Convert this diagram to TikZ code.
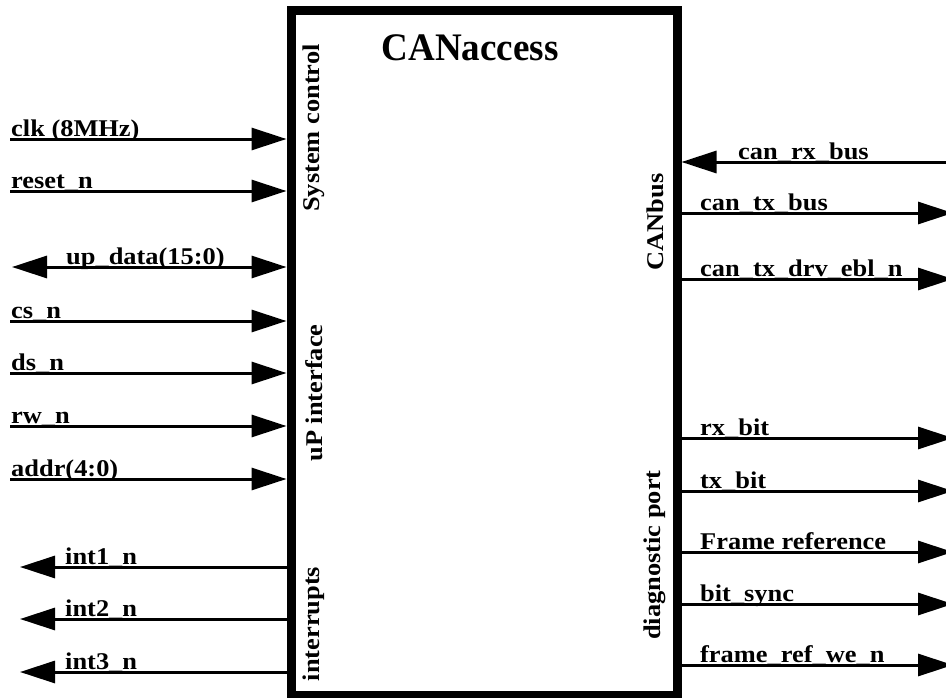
\documentclass[tikz,border=0pt]{standalone}
\usepackage{fontspec}
\setmainfont{Liberation Serif}
\newfontfamily\labfont{Liberation Serif}[FakeStretch=1.1]
\newfontfamily\titfont{Liberation Serif}[FakeStretch=0.95]
\usetikzlibrary{arrows.meta}
\tikzset{
  sig/.style={line width=3pt},
  bigtip/.tip={Triangle[length=35pt,width=22pt]},
  lab/.style={font=\labfont\bfseries\fontsize{24}{26}\selectfont, inner sep=0pt, anchor=base west},
  side/.style={font=\labfont\bfseries\fontsize{24}{26}\selectfont, inner sep=0pt, rotate=90},
}
\begin{document}
\begin{tikzpicture}[x=1pt,y=-1pt]
\useasboundingbox (0,0) rectangle (946,697);
\clip (0,0) rectangle (946,697);
% block
\node[draw, line width=9pt, minimum width=386pt, minimum height=685pt, inner sep=0pt] (box) at (484,353) {};
\node[font=\titfont\bfseries\fontsize{39}{42}\selectfont, inner sep=0pt, anchor=base] (title) at (470,60) {CANaccess};
% side group labels
\node[side] (sysctl) at (314,128) {System control};
\node[side] (upif) at (314,393) {uP interface};
\node[side] (intr) at (314,624) {interrupts};
\node[side] (canbus) at (655,222) {CANbus};
\node[side] (diag) at (655,555) {diagnostic port};
% left inputs
\coordinate (clkL) at (10,139);
\coordinate (resetL) at (10,191);
\coordinate (upL) at (12,267);
\coordinate (csL) at (10,321);
\coordinate (dsL) at (10,373);
\coordinate (rwL) at (10,426);
\coordinate (addrL) at (10,479);
\coordinate (int1L) at (20,567);
\coordinate (int2L) at (20,619);
\coordinate (int3L) at (20,672);
\draw[sig,-bigtip] (clkL) -- (clkL -| box.west);
\draw[sig,-bigtip] (resetL) -- (resetL -| box.west);
\draw[sig,bigtip-bigtip] (upL) -- (upL -| box.west);
\draw[sig,-bigtip] (csL) -- (csL -| box.west);
\draw[sig,-bigtip] (dsL) -- (dsL -| box.west);
\draw[sig,-bigtip] (rwL) -- (rwL -| box.west);
\draw[sig,-bigtip] (addrL) -- (addrL -| box.west);
\draw[sig,-bigtip] (int1L -| box.west) -- (int1L);
\draw[sig,-bigtip] (int2L -| box.west) -- (int2L);
\draw[sig,-bigtip] (int3L -| box.west) -- (int3L);
\node[lab] (clkT) at (11,136) {clk (8MHz)};
\node[lab] (resetT) at (11,188) {reset\_n};
\node[lab] (upT) at (66,264) {up\_data(15:0)};
\node[lab] (csT) at (11,318) {cs\_n};
\node[lab] (dsT) at (11,370) {ds\_n};
\node[lab] (rwT) at (11,423) {rw\_n};
\node[lab] (addrT) at (11,476) {addr(4:0)};
\node[lab] (int1T) at (65,564) {int1\_n};
\node[lab] (int2T) at (65,616) {int2\_n};
\node[lab] (int3T) at (65,669) {int3\_n};
% right side
\coordinate (canrxR) at (950,162);
\coordinate (cantxR) at (953,213);
\coordinate (candrvR) at (953,279);
\coordinate (rxbitR) at (953,438);
\coordinate (txbitR) at (953,491);
\coordinate (frefR) at (953,552);
\coordinate (bsyncR) at (953,604);
\coordinate (frweR) at (953,665);
\draw[sig,-bigtip] (canrxR) -- (canrxR -| box.east);
\draw[sig,-bigtip] (cantxR -| box.east) -- (cantxR);
\draw[sig,-bigtip] (candrvR -| box.east) -- (candrvR);
\draw[sig,-bigtip] (rxbitR -| box.east) -- (rxbitR);
\draw[sig,-bigtip] (txbitR -| box.east) -- (txbitR);
\draw[sig,-bigtip] (frefR -| box.east) -- (frefR);
\draw[sig,-bigtip] (bsyncR -| box.east) -- (bsyncR);
\draw[sig,-bigtip] (frweR -| box.east) -- (frweR);
\node[lab] (canrxT) at (738,159) {can\_rx\_bus};
\node[lab] (cantxT) at (700,210) {can\_tx\_bus};
\node[lab] (candrvT) at (700,276) {can\_tx\_drv\_ebl\_n};
\node[lab] (rxbitT) at (700,435) {rx\_bit};
\node[lab] (txbitT) at (700,488) {tx\_bit};
\node[lab] (frefT) at (700,549) {Frame reference};
\node[lab] (bsyncT) at (700,601) {bit\_sync};
\node[lab] (frweT) at (700,662) {frame\_ref\_we\_n};
\end{tikzpicture}
\end{document}
